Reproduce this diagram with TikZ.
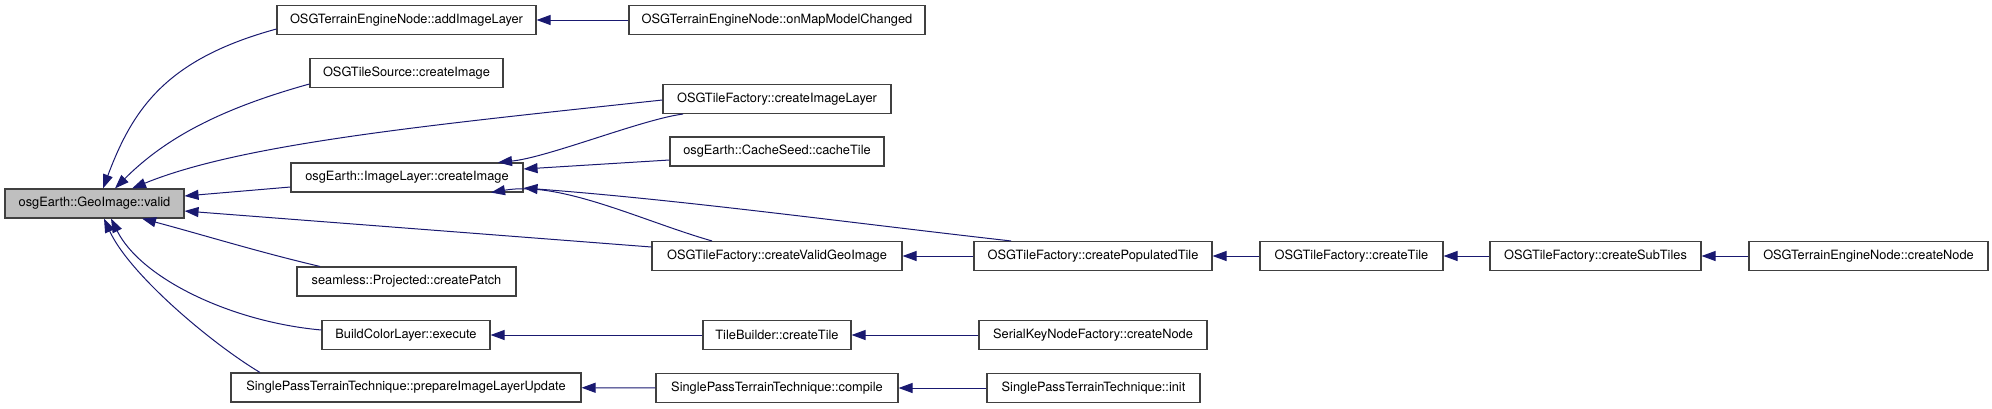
\documentclass[tikz,border=0pt]{standalone}
\usepackage{fontspec}
\setmainfont{TeX Gyre Heros}
\usepackage{xcolor}
\usepackage{tikz}
\usetikzlibrary{arrows.meta}
\definecolor{callcol}{RGB}{25,25,112}
\definecolor{boxcol}{RGB}{64,64,64}
\definecolor{curcol}{RGB}{191,191,191}

\begin{document}
\begin{tikzpicture}[x=1pt, y=1pt, font=\fontsize{12.8}{15}\selectfont,
    fn/.style={draw=boxcol, line width=1.1pt, fill=white, inner sep=0pt, minimum height=29pt},
    call/.style={callcol, line width=1pt, -{Triangle[length=14pt,width=10pt]}}]
    \useasboundingbox (0,0) rectangle (1992,-408);

    % Current function
    \node[fn, fill=curcol, minimum width=179pt] (valid) at (94.5,-203.5) {osgEarth::GeoImage::valid};

    % Direct callers
    \node[fn, minimum width=259pt] (addimg) at (406.5,-20) {OSGTerrainEngineNode::addImageLayer};
    \node[fn, minimum width=193pt] (tsrc) at (406.5,-73) {OSGTileSource::createImage};
    \node[fn, minimum width=232pt] (imglayer) at (407,-177.5) {osgEarth::ImageLayer::createImage};
    \node[fn, minimum width=219pt] (patch) at (406.5,-281.5) {seamless::Projected::createPatch};
    \node[fn, minimum width=168pt] (colorlayer) at (406,-335) {BuildColorLayer::execute};
    \node[fn, minimum width=350pt] (prepare) at (406,-387.5) {SinglePassTerrainTechnique::prepareImageLayerUpdate};

    % Second level
    \node[fn, minimum width=296pt] (mapmodel) at (777,-20) {OSGTerrainEngineNode::onMapModelChanged};
    \node[fn, minimum width=228pt] (imglayerfac) at (777,-99) {OSGTileFactory::createImageLayer};
    \node[fn, minimum width=214pt] (cachetile) at (777,-151.5) {osgEarth::CacheSeed::cacheTile};
    \node[fn, minimum width=250pt] (validgeo) at (777,-256) {OSGTileFactory::createValidGeoImage};
    \node[fn, minimum width=148pt] (tilebuild) at (777,-335) {TileBuilder::createTile};
    \node[fn, minimum width=242pt] (compile) at (777,-388) {SinglePassTerrainTechnique::compile};

    % Further callers
    \node[fn, minimum width=238pt] (populated) at (1093,-256) {OSGTileFactory::createPopulatedTile};
    \node[fn, minimum width=228pt] (serialnode) at (1093,-335) {SerialKeyNodeFactory::createNode};
    \node[fn, minimum width=213pt] (init) at (1093.5,-388) {SinglePassTerrainTechnique::init};
    \node[fn, minimum width=183pt] (facttile) at (1351.5,-256) {OSGTileFactory::createTile};
    \node[fn, minimum width=211pt] (subtiles) at (1595.5,-256) {OSGTileFactory::createSubTiles};
    \node[fn, minimum width=239pt] (enginenode) at (1868.5,-256) {OSGTerrainEngineNode::createNode};

    % Calls into valid
    \draw[call] ([yshift=-9pt]addimg.west) .. controls +(-110,-30) and +(30,80) .. ([xshift=8.5pt]valid.north);
    \draw[call] ([yshift=-11pt]tsrc.west) .. controls +(-90,-25) and +(50,50) .. ([xshift=20.5pt]valid.north);
    \draw[call] ([yshift=-1pt]imglayerfac.west) .. controls (430,-125) and +(110,45) .. ([xshift=37.5pt]valid.north);
    \draw[call] ([yshift=-9.5pt]imglayer.west) -- ([yshift=7.5pt]valid.east);
    \draw[call] ([yshift=9pt]validgeo.west) -- ([yshift=-7.5pt]valid.east);
    \draw[call] ([xshift=-86.5pt]patch.north) .. controls +(-60,14) and +(60,-16) .. ([xshift=47.5pt]valid.south);
    \draw[call] ([yshift=5pt]colorlayer.west) .. controls +(-90,8) and +(30,-60) .. ([xshift=16.5pt]valid.south);
    \draw[call] ([xshift=-146pt]prepare.north) .. controls +(-50,30) and +(25,-55) .. ([xshift=9.5pt]valid.south);

    % Calls into ImageLayer::createImage
    \draw[call] ([xshift=-94pt]imglayerfac.south) .. controls +(-40,-5) and +(50,5) .. ([xshift=91pt]imglayer.north);
    \draw[call] ([yshift=-8.5pt]cachetile.west) -- ([yshift=8.5pt]imglayer.east);
    \draw[call] ([xshift=-82pt]populated.north) .. controls +(-160,18) and +(160,-12) .. ([yshift=-10.5pt]imglayer.east);
    \draw[call] ([xshift=-65pt]validgeo.north) .. controls +(-70,20) and +(70,12) .. ([xshift=84pt]imglayer.south);

    % Straight chains
    \draw[call] (mapmodel) -- (addimg);
    \draw[call] (populated) -- (validgeo);
    \draw[call] (facttile) -- (populated);
    \draw[call] (subtiles) -- (facttile);
    \draw[call] (enginenode) -- (subtiles);
    \draw[call] (tilebuild) -- (colorlayer);
    \draw[call] (serialnode) -- (tilebuild);
    \draw[call] (compile) -- (prepare);
    \draw[call] (init) -- (compile);
\end{tikzpicture}
\end{document}
